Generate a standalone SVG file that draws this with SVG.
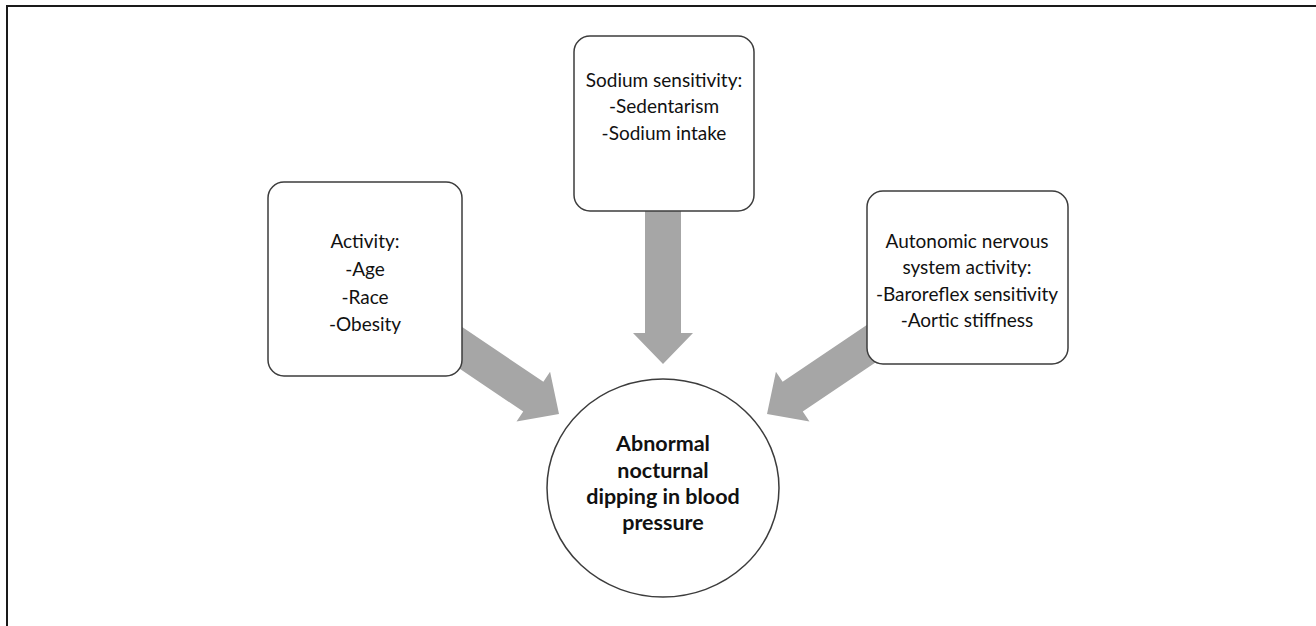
<svg xmlns="http://www.w3.org/2000/svg" width="1316" height="626" viewBox="0 0 1316 626">
<defs>
<style>
.box{fill:#fff;stroke:#3c3c3c;stroke-width:1.5}
.t{font-family:Lato,"Open Sans","Liberation Sans",sans-serif;font-size:19px;fill:#111;text-anchor:middle}
.tb{font-family:Lato,"Open Sans","Liberation Sans",sans-serif;font-size:21.5px;font-weight:bold;fill:#111;text-anchor:middle}
.arr{fill:#a6a6a6}
</style>
<path id="arrowShape" d="M0,0 L-31,-30 L-31,-18 L-175,-18 L-175,18 L-31,18 L-31,30 Z"/>
</defs>
<rect width="1316" height="626" fill="#fff"/>
<g id="frame" fill="none" stroke="#1a1a1a" stroke-width="2">
<path d="M7,626 L7,6 L1316,6"/>
</g>
<g id="connectors" class="arr">
<use href="#arrowShape" transform="translate(663,364) rotate(90)"/>
<use href="#arrowShape" transform="translate(559,414) rotate(34)"/>
<use href="#arrowShape" transform="translate(767,414) rotate(146)"/>
</g>
<g id="node-activity">
<rect class="box" x="268" y="182" width="194" height="194" rx="16"/>
<text class="t" x="365" y="248">Activity:</text>
<text class="t" x="365" y="276">-Age</text>
<text class="t" x="365" y="304">-Race</text>
<text class="t" x="365" y="331">-Obesity</text>
</g>
<g id="node-sodium">
<rect class="box" x="574" y="36" width="180" height="175" rx="16"/>
<text class="t" x="664" y="87">Sodium sensitivity:</text>
<text class="t" x="664" y="113">-Sedentarism</text>
<text class="t" x="664" y="140">-Sodium intake</text>
</g>
<g id="node-autonomic">
<rect class="box" x="867" y="191" width="201" height="173" rx="16"/>
<text class="t" x="967" y="248">Autonomic nervous</text>
<text class="t" x="967" y="274">system activity:</text>
<text class="t" x="967" y="301">-Baroreflex sensitivity</text>
<text class="t" x="967" y="327">-Aortic stiffness</text>
</g>
<g id="node-outcome">
<ellipse class="box" cx="663" cy="488" rx="116" ry="109"/>
<text class="tb" x="663" y="451">Abnormal</text>
<text class="tb" x="663" y="478">nocturnal</text>
<text class="tb" x="663" y="504">dipping in blood</text>
<text class="tb" x="663" y="530">pressure</text>
</g>
</svg>
